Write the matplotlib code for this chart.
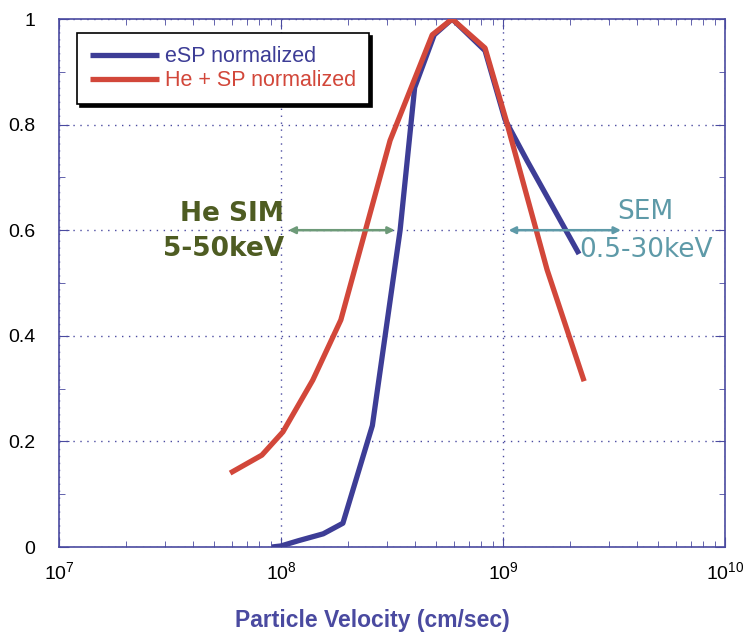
import numpy as np
import matplotlib
matplotlib.use('Agg')
from matplotlib import pyplot as plt
from matplotlib.ticker import LogLocator, NullFormatter

# eSP normalized (blue)
esp_v = [0.91e8, 1.0e8, 1.2e8, 1.55e8, 1.9e8, 2.58e8, 3.44e8, 4.0e8, 4.9e8, 5.9e8, 8.3e8, 1.02e9, 1.29e9, 2.2e9]
esp_y = [0.0, 0.002, 0.012, 0.025, 0.045, 0.23, 0.60, 0.87, 0.97, 1.0, 0.94, 0.81, 0.73, 0.555]

# He + SP normalized (red)
he_v = [5.9e7, 8.2e7, 1.02e8, 1.39e8, 1.86e8, 3.1e8, 4.8e8, 5.9e8, 8.3e8, 1.03e9, 1.58e9, 2.32e9]
he_y = [0.14, 0.174, 0.218, 0.316, 0.43, 0.77, 0.97, 1.0, 0.945, 0.81, 0.525, 0.314]

blue = '#3d3d96'
red = '#d2473a'
axc = '#4a4aa0'

plt.rcParams['font.family'] = ['Liberation Sans', 'DejaVu Sans']

fig = plt.figure(figsize=(7.45, 6.39), dpi=100)
ax = fig.add_axes([59/745, 1-547/639, 666/745, 528/639])

ax.plot(esp_v, esp_y, color=blue, lw=3.8, solid_capstyle='butt', label='eSP normalized', zorder=3)
ax.plot(he_v, he_y, color=red, lw=3.8, solid_capstyle='butt', label='He + SP normalized', zorder=3)

ax.set_xscale('log')
ax.set_xlim(1e7, 1e10)
ax.set_ylim(0, 1)
ax.set_yticks([0, 0.2, 0.4, 0.6, 0.8, 1])
ax.set_yticklabels(['0', '0.2', '0.4', '0.6', '0.8', '1'])
ax.yaxis.set_minor_locator(matplotlib.ticker.MultipleLocator(0.1))
ax.xaxis.set_minor_locator(LogLocator(base=10, subs=np.arange(2, 10)))
ax.xaxis.set_minor_formatter(NullFormatter())

ax.grid(True, which='major', color=axc, linestyle=(0, (1, 4)), linewidth=1.0)
for s in ax.spines.values():
    s.set_color(axc)
    s.set_linewidth(1.2)
ax.tick_params(which='both', direction='in', top=True, right=True, colors=axc,
               labelcolor='black', labelsize=14)
ax.tick_params(which='major', length=7)
ax.tick_params(which='minor', length=4)
ax.tick_params(axis='x', pad=10)
ax.tick_params(axis='y', pad=17)

ax.set_xlabel('Particle Velocity (cm/sec)', fontsize=16.5, fontweight='bold', color=axc)
ax.xaxis.set_label_coords(0.47, -0.118)

leg = ax.legend(loc='upper left', bbox_to_anchor=(0.027, 0.973), fontsize=15.5, frameon=True,
                fancybox=False, shadow={'color': 'black', 'alpha': 1}, handlelength=3.2,
                borderpad=0.6, labelspacing=0.15, handletextpad=0.3, borderaxespad=0)
leg.get_frame().set_edgecolor('black')
leg.get_frame().set_linewidth(1.2)
leg.texts[0].set_color(blue)
leg.texts[1].set_color(red)

# He SIM arrow and label
green = '#6d9a78'
ax.annotate('', xy=(1.05e8, 0.6), xytext=(3.35e8, 0.6),
            arrowprops=dict(arrowstyle='<|-|>', color=green, lw=1.8, mutation_scale=10))
ax.text(1.03e8, 0.63, 'He SIM', ha='right', va='center', fontsize=19, fontweight='bold',
        color='#4e5c22', family=['DejaVu Sans'])
ax.text(1.03e8, 0.565, '5-50keV', ha='right', va='center', fontsize=19, fontweight='bold',
        color='#4e5c22', family=['DejaVu Sans'])

# SEM arrow and label
teal = '#5e9aa8'
ax.annotate('', xy=(1.03e9, 0.6), xytext=(3.5e9, 0.6),
            arrowprops=dict(arrowstyle='<|-|>', color=teal, lw=1.8, mutation_scale=10))
ax.text(4.4e9, 0.634, 'SEM', ha='center', va='center', fontsize=19, color=teal, family=['DejaVu Sans'])
ax.text(4.4e9, 0.562, '0.5-30keV', ha='center', va='center', fontsize=19, color=teal, family=['DejaVu Sans'])

fig.savefig('out.png', dpi=100)
